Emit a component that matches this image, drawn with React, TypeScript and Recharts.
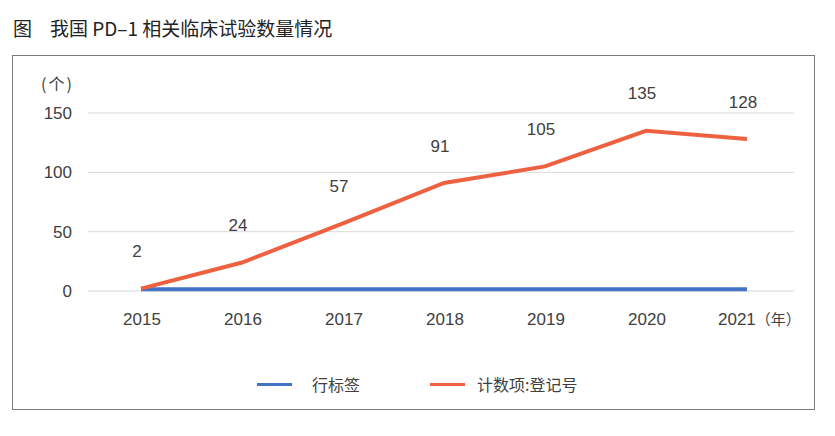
import { LineChart, Line, XAxis, YAxis, CartesianGrid, LabelList } from 'recharts'

const years = ['2015', '2016', '2017', '2018', '2019', '2020', '2021']
const rowLabel = [1.5, 1.5, 1.5, 1.5, 1.5, 1.5, 1.5]
const trialCount = [2, 24, 57, 91, 105, 135, 128]
const yTicks = [0, 50, 100, 150]

const seriesNames = ['行标签', '计数项:登记号']
const BLUE = '#4472C4'
const ORANGE = '#EE6140'
const TEXT = '#404040'
const FONT = '"Liberation Sans", "Noto Sans CJK SC", sans-serif'
const CJK = '"Noto Sans CJK SC", sans-serif'

const data = years.map((y, i) => ({ year: y, rowLabel: rowLabel[i], count: trialCount[i] }))

function XTick({ x, y, payload, index }: any) {
  const last = index === years.length - 1
  if (last) {
    return (
      <text x={x - 29} y={y + 26} fill={TEXT} fontSize={17} fontFamily={FONT} textAnchor="start">
        {payload.value}
        <tspan fontSize={15} fontFamily={CJK}>（年）</tspan>
      </text>
    )
  }
  return (
    <text x={x + 1} y={y + 26} fill={TEXT} fontSize={17} fontFamily={FONT} textAnchor="middle">
      {payload.value}
    </text>
  )
}

function PointLabel({ x, y, value }: any) {
  return (
    <text x={x - 4} y={y - 37} fill={TEXT} fontSize={17} fontFamily={FONT} textAnchor="middle" dominantBaseline="central">
      {value}
    </text>
  )
}

export default function App() {
  return (
    <div style={{ position: 'absolute', left: 0, top: 0, width: 835, height: 436, background: '#fff', fontFamily: FONT }}>
      <div style={{ position: 'absolute', left: 13, top: 14, fontSize: 19, color: '#222', fontFamily: CJK, fontWeight: 400, whiteSpace: 'nowrap' }}>
        <span>图</span>
        <span style={{ marginLeft: 18 }}>我国 PD–1 相关临床试验数量情况</span>
      </div>
      <div style={{ position: 'absolute', left: 12, top: 55, width: 801, height: 353, border: '1px solid #7a7a7a' }} />
      <div style={{ position: 'absolute', left: 41, top: 71, fontSize: 16, color: TEXT, fontFamily: CJK, letterSpacing: 2 }}>
        (个)
      </div>
      <div style={{ position: 'absolute', left: 0, top: 0 }}>
        <LineChart width={835} height={436} data={data} margin={{ top: 113, right: 41, bottom: 115, left: 48 }}>
          <CartesianGrid vertical={false} stroke="#D9D9D9" strokeWidth={1} />
          <XAxis
            dataKey="year"
            height={30}
            axisLine={false}
            tickLine={false}
            tick={<XTick />}
            padding={{ left: 53, right: 47 }}
            interval={0}
          />
          <YAxis
            width={40}
            domain={[0, 150]}
            ticks={yTicks}
            axisLine={false}
            tickLine={false}
            tickMargin={10}
            tick={{ fill: TEXT, fontSize: 17, fontFamily: FONT }}
          />
          <Line
            dataKey="rowLabel"
            name={seriesNames[0]}
            stroke={BLUE}
            strokeWidth={4}
            dot={false}
            isAnimationActive={false}
          />
          <Line
            dataKey="count"
            name={seriesNames[1]}
            stroke={ORANGE}
            strokeWidth={4}
            dot={false}
            isAnimationActive={false}
          >
            <LabelList dataKey="count" content={<PointLabel />} />
          </Line>
        </LineChart>
      </div>
      {/* legend */}
      <div style={{ position: 'absolute', left: 257, top: 372, display: 'flex', alignItems: 'center', fontSize: 16, color: TEXT, fontFamily: CJK, whiteSpace: 'nowrap' }}>
        <span style={{ display: 'inline-block', width: 35, height: 3, background: BLUE }} />
        <span style={{ marginLeft: 20 }}>{seriesNames[0]}</span>
        <span style={{ display: 'inline-block', width: 35, height: 3, background: ORANGE, marginLeft: 70 }} />
        <span style={{ marginLeft: 12 }}>{seriesNames[1]}</span>
      </div>
    </div>
  )
}
